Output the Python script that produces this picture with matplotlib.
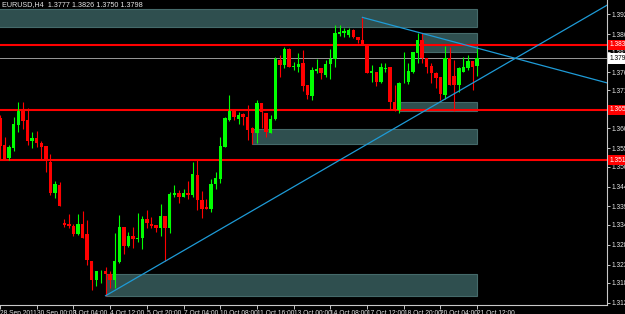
import matplotlib
matplotlib.use("Agg")
import matplotlib.pyplot as plt
import matplotlib.transforms as mtransforms
import numpy as np

# H4 candles, EURUSD, 28 Sep 2011 16:00 .. 21 Oct 2011 12:00
opens = [1.3634, 1.3559, 1.3524, 1.3552, 1.3615, 1.3653, 1.3628, 1.3570, 1.3580, 1.3566,
         1.3557, 1.3513, 1.3428, 1.3449, 1.3344, 1.3342, 1.3337, 1.3314, 1.3342, 1.3314,
         1.3241, 1.3187, 1.3211, 1.3212, 1.3204, 1.3187, 1.3238, 1.3334, 1.3282, 1.3309,
         1.3301, 1.3304, 1.3355, 1.3342, 1.3339, 1.3332, 1.3365, 1.3332, 1.3422, 1.3428,
         1.3417, 1.3426, 1.3422, 1.3477, 1.3408, 1.3389, 1.3383, 1.3452, 1.3466, 1.3555,
         1.3628, 1.3653, 1.3631, 1.3645, 1.3637, 1.3605, 1.3593, 1.3674, 1.3647, 1.3593,
         1.3630, 1.3794, 1.3780, 1.3823, 1.3775, 1.3775, 1.3784, 1.3725, 1.3695, 1.3763,
         1.3771, 1.3752, 1.3783, 1.3795, 1.3865, 1.3867, 1.3862, 1.3876, 1.3856, 1.3849,
         1.3837, 1.3757, 1.3761, 1.3734, 1.3769, 1.3775, 1.3679, 1.3656, 1.3733, 1.3732,
         1.3760, 1.3812, 1.3849, 1.3798, 1.3777, 1.3757, 1.3746, 1.3697, 1.3798, 1.3750,
         1.3725, 1.3761, 1.3771, 1.3791, 1.3777]
highs = [1.3642, 1.3581, 1.3559, 1.3637, 1.3678, 1.3678, 1.3661, 1.3596, 1.3598, 1.3570,
         1.3557, 1.3535, 1.3460, 1.3457, 1.3356, 1.3369, 1.3342, 1.3369, 1.3378, 1.3353,
         1.3241, 1.3212, 1.3215, 1.3224, 1.3212, 1.3316, 1.3367, 1.3334, 1.3321, 1.3333,
         1.3371, 1.3364, 1.3380, 1.3362, 1.3339, 1.3397, 1.3365, 1.3431, 1.3449, 1.3435,
         1.3438, 1.3461, 1.3513, 1.3521, 1.3433, 1.3411, 1.3466, 1.3484, 1.3582, 1.3637,
         1.3697, 1.3653, 1.3651, 1.3647, 1.3670, 1.3610, 1.3683, 1.3674, 1.3648, 1.3642,
         1.3803, 1.3807, 1.3830, 1.3826, 1.3789, 1.3812, 1.3821, 1.3725, 1.3775, 1.3795,
         1.3771, 1.3794, 1.3823, 1.3890, 1.3890, 1.3881, 1.3881, 1.3878, 1.3856, 1.3911,
         1.3837, 1.3780, 1.3761, 1.3786, 1.3784, 1.3775, 1.3725, 1.3734, 1.3817, 1.3784,
         1.3817, 1.3867, 1.3867, 1.3800, 1.3784, 1.3761, 1.3746, 1.3832, 1.3830, 1.3794,
         1.3775, 1.3803, 1.3807, 1.3791, 1.3826]
lows = [1.3518, 1.3518, 1.3518, 1.3544, 1.3596, 1.3604, 1.3559, 1.3550, 1.3555, 1.3518,
        1.3484, 1.3422, 1.3413, 1.3392, 1.3333, 1.3330, 1.3309, 1.3311, 1.3302, 1.3229,
        1.3160, 1.3171, 1.3180, 1.3144, 1.3166, 1.3166, 1.3233, 1.3258, 1.3279, 1.3277,
        1.3293, 1.3273, 1.3332, 1.3330, 1.3321, 1.3309, 1.3240, 1.3318, 1.3417, 1.3399,
        1.3415, 1.3411, 1.3415, 1.3380, 1.3357, 1.3382, 1.3376, 1.3437, 1.3454, 1.3553,
        1.3626, 1.3628, 1.3617, 1.3615, 1.3573, 1.3562, 1.3566, 1.3605, 1.3581, 1.3592,
        1.3628, 1.3748, 1.3771, 1.3775, 1.3766, 1.3761, 1.3709, 1.3685, 1.3683, 1.3759,
        1.3741, 1.3748, 1.3740, 1.3775, 1.3860, 1.3858, 1.3858, 1.3853, 1.3840, 1.3837,
        1.3757, 1.3734, 1.3722, 1.3731, 1.3761, 1.3656, 1.3654, 1.3648, 1.3729, 1.3727,
        1.3757, 1.3786, 1.3785, 1.3757, 1.3729, 1.3716, 1.3683, 1.3686, 1.3725, 1.3654,
        1.3706, 1.3761, 1.3766, 1.3711, 1.3750]
closes = [1.3557, 1.3521, 1.3554, 1.3617, 1.3653, 1.3626, 1.3570, 1.3580, 1.3564, 1.3555,
          1.3515, 1.3428, 1.3452, 1.3392, 1.3339, 1.3337, 1.3314, 1.3342, 1.3302, 1.3243,
          1.3187, 1.3212, 1.3212, 1.3203, 1.3187, 1.3240, 1.3334, 1.3282, 1.3309, 1.3300,
          1.3304, 1.3355, 1.3344, 1.3336, 1.3330, 1.3365, 1.3332, 1.3424, 1.3426, 1.3417,
          1.3426, 1.3422, 1.3480, 1.3408, 1.3382, 1.3383, 1.3452, 1.3469, 1.3557, 1.3633,
          1.3653, 1.3636, 1.3642, 1.3636, 1.3601, 1.3592, 1.3674, 1.3650, 1.3594, 1.3631,
          1.3795, 1.3780, 1.3823, 1.3775, 1.3778, 1.3783, 1.3722, 1.3697, 1.3766, 1.3769,
          1.3757, 1.3783, 1.3795, 1.3869, 1.3872, 1.3874, 1.3876, 1.3856, 1.3849, 1.3837,
          1.3757, 1.3763, 1.3734, 1.3775, 1.3771, 1.3679, 1.3656, 1.3729, 1.3734, 1.3764,
          1.3815, 1.3849, 1.3798, 1.3775, 1.3757, 1.3743, 1.3700, 1.3798, 1.3725, 1.3725,
          1.3772, 1.3775, 1.3791, 1.3775, 1.3798]

date_labels = ["28 Sep 2011", "30 Sep 00:00", "3 Oct 04:00", "4 Oct 12:00", "5 Oct 20:00",
               "7 Oct 04:00", "10 Oct 08:00", "11 Oct 16:00", "13 Oct 00:00", "14 Oct 08:00",
               "17 Oct 12:00", "18 Oct 20:00", "20 Oct 04:00", "21 Oct 12:00"]
date_idx = [0, 8, 16, 24, 32, 40, 48, 56, 64, 72, 80, 88, 96, 104]

price_labels = ["1.3920", "1.3865", "1.3815", "1.3760", "1.3710", "1.3605", "1.3550",
                "1.3500", "1.3445", "1.3390", "1.3340", "1.3285", "1.3230", "1.3180", "1.3125"]

# support / resistance lines and objects
hlines = [1.3835, 1.3656, 1.3518]
bid = 1.3798
# rectangles: (start idx, end idx, low, high)
boxes = [(-5, 104, 1.3885, 1.3934),
         (92, 104, 1.3815, 1.3867),
         (87, 104, 1.3654, 1.3679),
         (55, 104, 1.3562, 1.3603),
         (23, 104, 1.3144, 1.3204)]
# trendlines: two anchor points (idx, price)
trend_up = [(23, 1.3144), (97, 1.3686)]
trend_down = [(79, 1.3911), (92, 1.3867)]

header = "EURUSD,H4  1.3777 1.3826 1.3750 1.3798"

BG = "black"
FG = "#e6e6e6"
UP = "#00ff00"
DN = "#ff0000"
FONT = ["Liberation Sans Narrow", "Liberation Sans", "DejaVu Sans"]
FS = 4.8

fig = plt.figure(figsize=(6.25, 3.14), dpi=100, facecolor=BG)
ax = fig.add_axes([0, 9 / 314, 607 / 625, 305 / 314])
ax.set_facecolor(BG)

n = len(opens)
x = np.arange(n)
o = np.array(opens)
c = np.array(closes)
h = np.array(highs)
l = np.array(lows)
col = np.where(c >= o, UP, DN)

# boxes
for x0, x1, lo, hi in boxes:
    ax.add_patch(plt.Rectangle((x0, lo), x1 - x0, hi - lo, facecolor="#2f4f4f",
                               edgecolor="#456a6a", lw=0.8, zorder=1))

# horizontal lines
for p in hlines:
    ax.axhline(p, color="#ff0000", lw=1.5, zorder=2)
ax.axhline(bid, color="#9a9a9a", lw=0.7, zorder=2)

# candles
ax.vlines(x, l, h, colors=col, lw=0.8, zorder=3)
body = np.maximum(np.abs(c - o), 0.00008)
ax.bar(x, body, bottom=np.minimum(o, c), width=0.75, color=col, lw=0, zorder=4)

# trendlines, extended to the right
for (xa, ya), (xb, yb) in [trend_up, trend_down]:
    slope = (yb - ya) / (xb - xa)
    xe = 140
    ax.plot([xa, xe], [ya, ya + slope * (xe - xa)], color="#1e9bd7", lw=0.9, zorder=5)

ax.set_xlim(0.39, 132.3)
ax.set_ylim(1.31186, 1.39589)

# axes look
for s in ["left", "top"]:
    ax.spines[s].set_visible(False)
for s in ["right", "bottom"]:
    ax.spines[s].set_color("#c8c8c8")
    ax.spines[s].set_linewidth(0.8)

ax.yaxis.tick_right()
ax.set_yticks([float(t) for t in price_labels])
ax.set_yticklabels(price_labels, family=FONT)
ax.set_xticks(date_idx)
ax.set_xticklabels(date_labels, family=FONT)
ax.tick_params(axis="y", colors=FG, labelsize=FS, length=2, width=0.6, pad=1)
ax.tick_params(axis="x", colors=FG, labelsize=FS, length=3, width=0.6, pad=0.5)
for t in ax.get_xticklabels():
    t.set_horizontalalignment("left")

# price tags on the right axis
tr = mtransforms.blended_transform_factory(ax.transAxes, ax.transData)
for p in hlines:
    ax.text(1.004, p, "%.4f" % p, transform=tr, fontsize=FS, color="white", family=FONT,
            va="center", ha="left", clip_on=False, zorder=10,
            bbox=dict(boxstyle="square,pad=0.25", fc="#ff0000", ec="none"))
ax.text(1.004, bid, "%.4f" % bid, transform=tr, fontsize=FS, color="black", family=FONT,
        va="center", ha="left", clip_on=False, zorder=10,
        bbox=dict(boxstyle="square,pad=0.25", fc="white", ec="none"))

ax.text(0.004, 0.995, header, transform=ax.transAxes, fontsize=FS + 0.4, color=FG, family=FONT,
        va="top", ha="left", zorder=10)

fig.savefig("out.png", dpi=100, facecolor=BG)
